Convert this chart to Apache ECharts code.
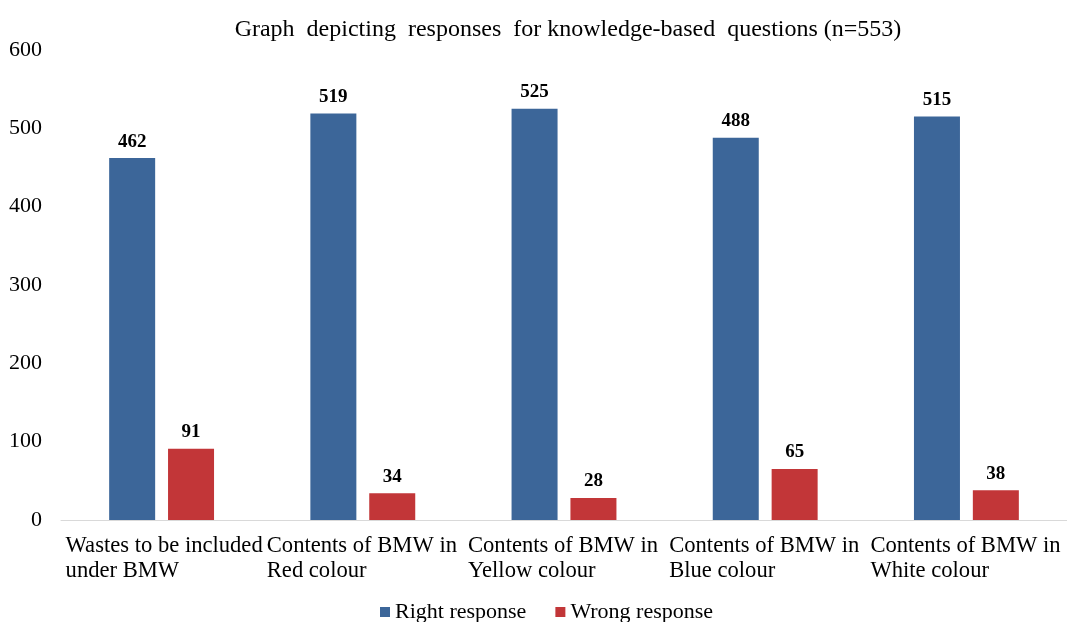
<!DOCTYPE html>
<html>
<head>
<meta charset="utf-8">
<script src="https://cdn.jsdelivr.net/npm/echarts@6/dist/echarts.min.js"></script>
<style>html,body{margin:0;padding:0;background:#fff}#c{width:1067px;height:622px}</style>
</head>
<body>
<div id="c"></div>
<script>
const titleText = 'Graph  depicting  responses  for knowledge-based  questions (n=553)';
const categories = [
  ['Wastes to be included', 'under BMW'],
  ['Contents of BMW in', 'Red colour'],
  ['Contents of BMW in', 'Yellow colour'],
  ['Contents of BMW in', 'Blue colour'],
  ['Contents of BMW in', 'White colour']
];
const seriesNames = ['Right response', 'Wrong response'];
const rightValues = [462, 519, 525, 488, 515];
const wrongValues = [91, 34, 28, 65, 38];
const yTicks = { min: 0, max: 600, interval: 100 };

const FONT = '"Liberation Serif", "Times New Roman", serif';
const chart = echarts.init(document.getElementById('c'), null, { renderer: 'canvas' });
const labelStyle = { show: true, position: 'top', distance: 7, fontFamily: FONT, fontWeight: 'bold', fontSize: 19, color: '#000' };
chart.setOption({
  animation: false,
  backgroundColor: '#fff',
  title: {
    text: titleText, left: 563, top: 13, textAlign: 'center',
    textStyle: { fontFamily: FONT, fontWeight: 'normal', fontSize: 24, color: '#000' }
  },
  legend: {
    top: 596, left: 375,
    icon: 'rect', itemWidth: 10, itemHeight: 10, itemGap: 29,
    textStyle: { fontFamily: FONT, fontSize: 22, color: '#000' },
    data: seriesNames
  },
  grid: { left: 61, right: 0, top: 50, bottom: 102, containLabel: false },
  xAxis: {
    type: 'category',
    data: categories.map(c => c.join('\n')),
    axisLine: { lineStyle: { color: '#D9D9D9', width: 1 } },
    axisTick: { show: false },
    axisLabel: {
      interval: 0, margin: 14,
      formatter: v => v.split('\n').map(s => '{a|' + s + '}').join('\n'),
      rich: { a: { width: 192, align: 'left', fontFamily: FONT, fontSize: 22.6, lineHeight: 25, color: '#000' } }
    }
  },
  yAxis: {
    type: 'value', min: yTicks.min, max: yTicks.max, interval: yTicks.interval,
    axisLine: { show: false }, axisTick: { show: false }, splitLine: { show: false },
    axisLabel: { margin: 19, fontFamily: FONT, fontSize: 22, color: '#000' }
  },
  series: [
    { name: seriesNames[0], type: 'bar', data: rightValues, barWidth: 46, barGap: '28%',
      itemStyle: { color: '#3C6699' }, label: labelStyle },
    { name: seriesNames[1], type: 'bar', data: wrongValues, barWidth: 46, barGap: '28%',
      itemStyle: { color: '#C23638' }, label: labelStyle }
  ]
});
</script>
</body>
</html>
